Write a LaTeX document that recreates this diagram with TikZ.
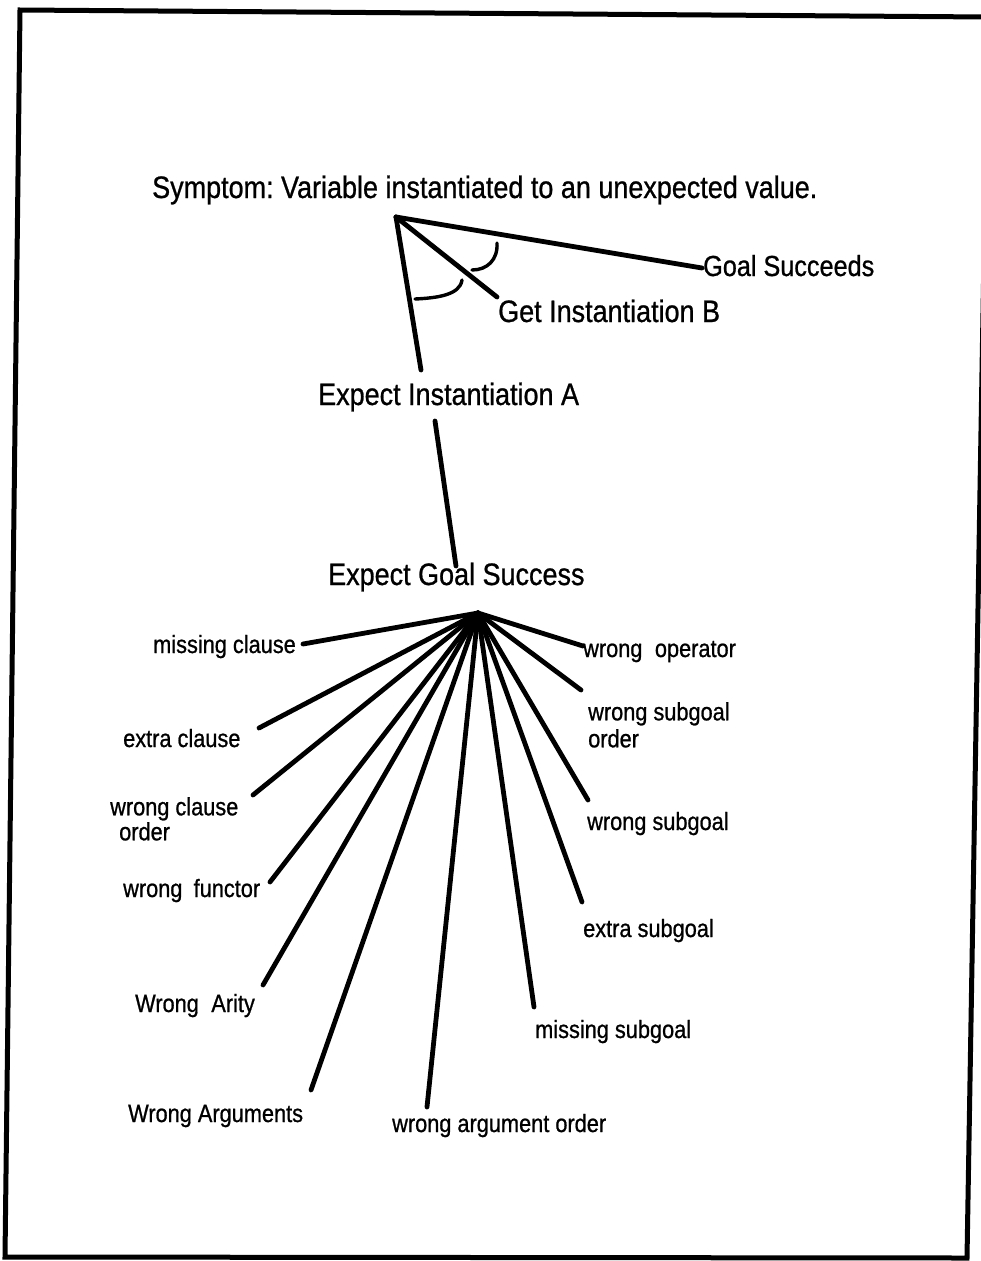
\documentclass[tikz,border=0pt]{standalone}
\usepackage{fontspec}
\setmainfont{Liberation Sans}
\newfontfamily\narrowfont[FakeStretch=0.87,FakeBold=0.8]{Liberation Sans}
\frenchspacing
\begin{document}
\begin{tikzpicture}[x=1pt,y=-1pt,
  bigtext/.style={font=\narrowfont\fontsize{31}{36}\selectfont, inner sep=0pt, anchor=base west},
  smalltext/.style={font=\narrowfont\fontsize{25}{26}\selectfont, inner sep=0pt, anchor=base west},
  twoline/.style={font=\narrowfont\fontsize{25}{26}\selectfont, inner sep=0pt, anchor=north west, align=left},
  branch/.style={line width=4.8pt, line cap=round},
  anglemark/.style={line width=3.4pt, line cap=round},
  frame/.style={line width=5pt, line join=miter}]
\useasboundingbox (0,0) rectangle (981,1261);
\fill[white] (0,0) rectangle (981,1261);

% page frame
\begin{scope}
  \clip (0,0) rectangle (981,1261);
  \draw[frame] (20,10) -- (988,17) -- (967,1258) -- (5,1257) -- cycle;
\end{scope}

% symptom and its three readings
\node[bigtext] (symptom) at (152,198) {Symptom: Variable instantiated to an unexpected value.};
\node[bigtext, font=\narrowfont\fontsize{29}{34}\selectfont] (succeeds) at (703,276) {Goal Succeeds};
\node[bigtext] (getB) at (498,322) {Get Instantiation B};
\node[bigtext] (expectA) at (318,405) {Expect Instantiation A};
\node[bigtext] (expectgoal) at (328,585) {Expect Goal Success};

\coordinate (top) at (396,217);
\coordinate (toSucceeds) at (702,268);
\coordinate (toGetB) at (497,297);
\coordinate (toExpectA) at (421,370);
\coordinate (fromExpectA) at (435,421);
\coordinate (toExpectGoal) at (456,566);

\draw[branch] (top) -- (toSucceeds);
\draw[branch] (top) -- (toGetB);
\draw[branch] (top) -- (toExpectA);
\draw[branch] (fromExpectA) -- (toExpectGoal);

% angle marks between the readings
\draw[anglemark] (497,243) .. controls (498,260) and (487,270) .. (472,270);
\draw[anglemark] (462,280) .. controls (460,295) and (437,298) .. (415,299);

% error classes fanning out from the expected goal success
\coordinate (hub) at (478,613);

\node[smalltext] (missclause) at (153,653) {missing clause};
\node[smalltext] (extraclause) at (123,747) {extra clause};
\node[twoline] (clauseorder) at (110,797) {wrong clause\\[-1pt]\hspace*{9pt}order};
\node[smalltext] (functor) at (123,897) {wrong\hspace{0.45em}functor};
\node[smalltext] (arity) at (135,1012) {Wrong\hspace{0.5em}Arity};
\node[smalltext] (arguments) at (128,1122) {Wrong Arguments};
\node[smalltext] (argorder) at (392,1132) {wrong argument order};
\node[smalltext] (misssub) at (535,1038) {missing subgoal};
\node[smalltext] (extrasub) at (583,937) {extra subgoal};
\node[smalltext] (wrongsub) at (587,830) {wrong subgoal};
\node[twoline] (suborder) at (588,702) {wrong subgoal\\[1pt]order};
\node[smalltext] (operator) at (583,657) {wrong\hspace{0.5em}operator};

\coordinate (eMissClause) at (303,644);
\coordinate (eExtraClause) at (259,728);
\coordinate (eClauseOrder) at (253,795);
\coordinate (eFunctor) at (270,882);
\coordinate (eArity) at (263,985);
\coordinate (eArguments) at (311,1090);
\coordinate (eArgOrder) at (427,1107);
\coordinate (eMissSub) at (534,1007);
\coordinate (eExtraSub) at (582,902);
\coordinate (eWrongSub) at (588,800);
\coordinate (eSubOrder) at (581,690);
\coordinate (eOperator) at (583,646);

\foreach \e in {eMissClause,eExtraClause,eClauseOrder,eFunctor,eArity,eArguments,
                eArgOrder,eMissSub,eExtraSub,eWrongSub,eSubOrder,eOperator}
  \draw[branch] (hub) -- (\e);
\end{tikzpicture}
\end{document}
